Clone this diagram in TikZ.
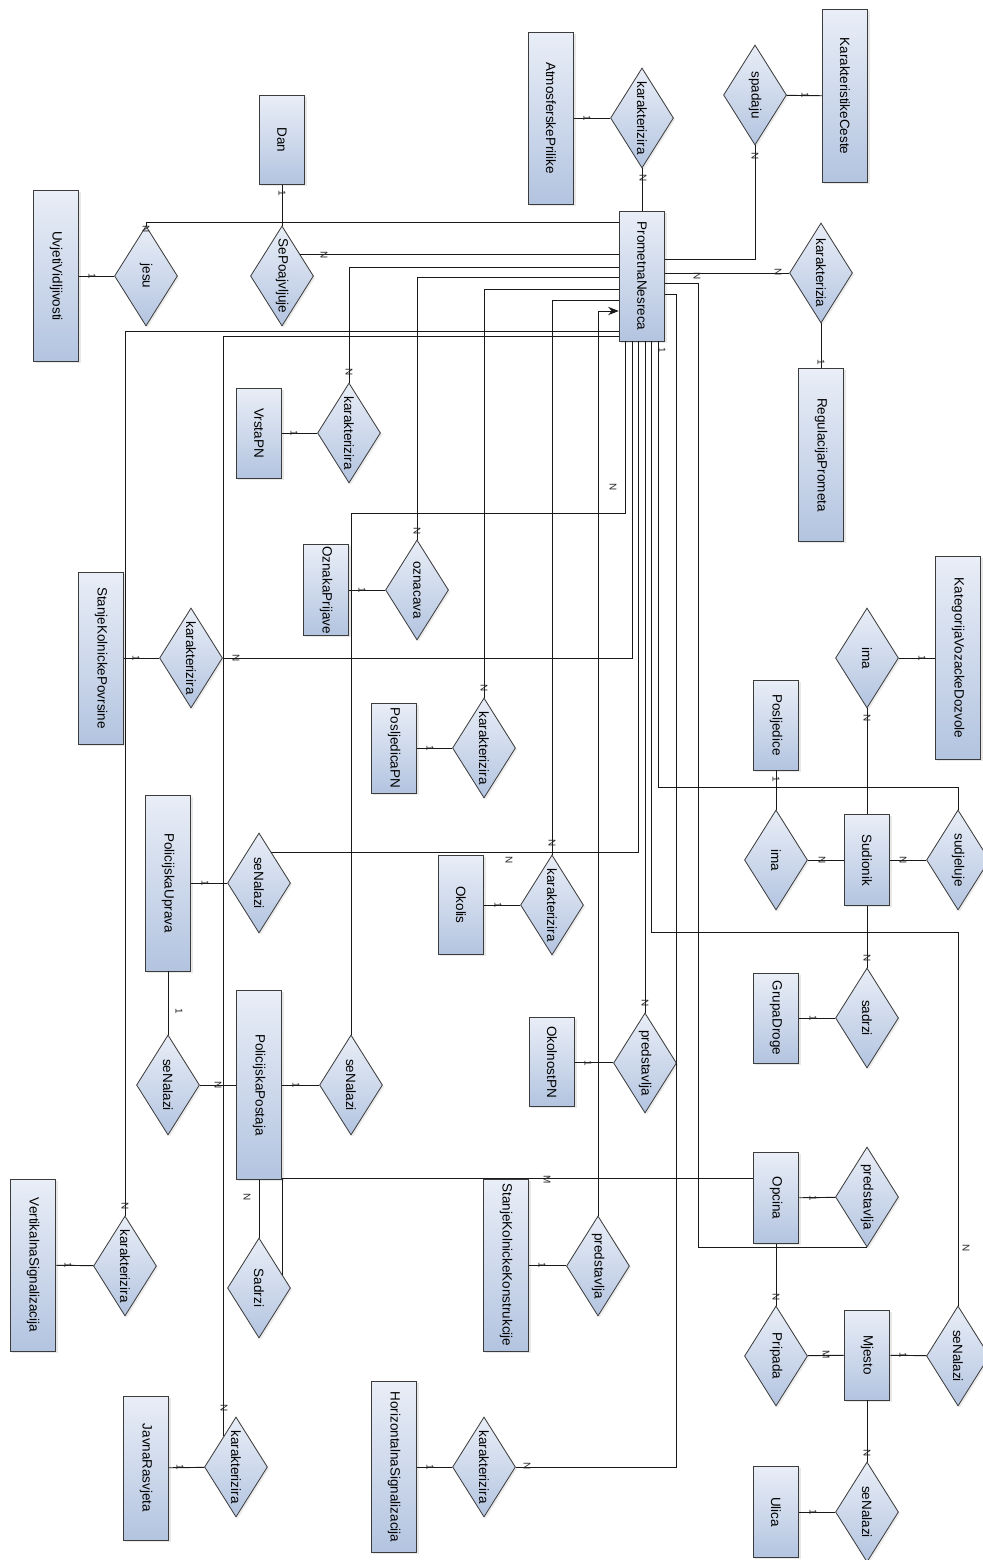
\documentclass[tikz,border=0pt]{standalone}
\usepackage{fontspec}
\setmainfont{Liberation Sans}
\usepackage{graphicx}
\usetikzlibrary{arrows.meta, shapes.geometric, shadows}
\definecolor{ertop}{HTML}{E9EEF7}
\definecolor{erbottom}{HTML}{B3C4E0}
\definecolor{erline}{HTML}{3C3C3C}
\newcommand{\vlabel}[1]{\rotatebox{-90}{#1}}

\begin{document}
\begin{tikzpicture}[
    x=0.03cm, y=-0.03cm,
    entity/.style={draw=erline, line width=0.7pt, top color=ertop, bottom color=erbottom,
                   drop shadow={opacity=0.18, shadow xshift=1.5pt, shadow yshift=-1.5pt},
                   minimum width=1.37cm, minimum height=#1*0.03cm, inner sep=0pt,
                   font=\fontsize{11.5}{13}\selectfont},
    relation/.style={diamond, shape aspect=0.63, draw=erline, line width=0.7pt,
                   top color=ertop, bottom color=erbottom,
                   drop shadow={opacity=0.15, shadow xshift=1.5pt, shadow yshift=-1.5pt},
                   minimum width=1.89cm, minimum height=3cm, inner sep=0pt,
                   font=\fontsize{11.5}{13}\selectfont},
    card/.style={font=\fontsize{8.5}{9}\selectfont, inner sep=0pt, text=black!85},
    link/.style={draw=black!90, line width=0.8pt},
]
    \fill[white] (0,0) rectangle (983,1560);
    \useasboundingbox (0,0) rectangle (983,1560);

    % entiteti
    \node[entity=89]  (dan)          at (282,140)  {\vlabel{Dan}};
    \node[entity=171] (uvjeti)       at (56,276)   {\vlabel{UvjetiVidljivosti}};
    \node[entity=172] (atmo)         at (551,118)  {\vlabel{AtmosferskePrilike}};
    \node[entity=130] (pn)           at (642,276)  {\vlabel{PrometnaNesreca}};
    \node[entity=173] (karceste)     at (845,96)   {\vlabel{KarakteristikeCeste}};
    \node[entity=173] (regulacija)   at (821,455)  {\vlabel{RegulacijaPrometa}};
    \node[entity=90]  (vrstapn)      at (259,433)  {\vlabel{VrstaPN}};
    \node[entity=91]  (oznaka)       at (326,590)  {\vlabel{OznakaPrijave}};
    \node[entity=172] (skpovrsine)   at (101,658)  {\vlabel{StanjeKolnickePovrsine}};
    \node[entity=90]  (posljedicapn) at (394,748)  {\vlabel{PosljedicaPN}};
    \node[entity=90]  (posljedice)   at (776,725)  {\vlabel{Posljedice}};
    \node[entity=203] (kategorija)   at (958,658)  {\vlabel{KategorijaVozackeDozvole}};
    \node[entity=91]  (sudionik)     at (867,860)  {\vlabel{Sudionik}};
    \node[entity=90]  (grupa)        at (776,1018) {\vlabel{GrupaDroge}};
    \node[entity=91]  (opcina)       at (776,1198) {\vlabel{Opcina}};
    \node[entity=90]  (mjesto)       at (867,1355) {\vlabel{Mjesto}};
    \node[entity=91]  (ulica)        at (776,1512) {\vlabel{Ulica}};
    \node[entity=99]  (okolis)       at (461,905)  {\vlabel{Okolis}};
    \node[entity=89]  (okolnost)     at (552,1062) {\vlabel{OkolnostPN}};
    \node[entity=172] (skkonstr)     at (506,1265) {\vlabel{StanjeKolnickeKonstrukcije}};
    \node[entity=176] (uprava)       at (168,883)  {\vlabel{PolicijskaUprava}};
    \node[entity=189] (postaja)      at (259,1085) {\vlabel{PolicijskaPostaja}};
    \node[entity=172] (vertikalna)   at (33,1265)  {\vlabel{VertikalnaSignalizacija}};
    \node[entity=144] (rasvjeta)     at (146,1468) {\vlabel{JavnaRasvjeta}};
    \node[entity=171] (horizontalna) at (394,1467) {\vlabel{HorizontalnaSignalizacija}};

    % veze
    \node[relation] (jesu)      at (146,276)  {\vlabel{jesu}};
    \node[relation] (sepo)      at (282,276)  {\vlabel{SePoajvljuje}};
    \node[relation] (atmorel)   at (642,118)  {\vlabel{karakterizira}};
    \node[relation] (spadaju)   at (755,95)   {\vlabel{spadaju}};
    \node[relation] (regrel)    at (821,273)  {\vlabel{karakterizia}};
    \node[relation] (vrstarel)  at (349,433)  {\vlabel{karakterizira}};
    \node[relation] (oznacava)  at (417,590)  {\vlabel{oznacava}};
    \node[relation] (skprel)    at (191,658)  {\vlabel{karakterizira}};
    \node[relation] (posljrel)  at (484,748)  {\vlabel{karakterizira}};
    \node[relation] (kvdima)    at (867,658)  {\vlabel{ima}};
    \node[relation] (poima)     at (776,860)  {\vlabel{ima}};
    \node[relation] (sudjeluje) at (958,860)  {\vlabel{sudjeluje}};
    \node[relation] (sadrzi)    at (867,1018) {\vlabel{sadrzi}};
    \node[relation] (predop)    at (867,1197) {\vlabel{predstavlja}};
    \node[relation] (pripada)   at (776,1356) {\vlabel{Pripada}};
    \node[relation] (senmj)     at (958,1356) {\vlabel{seNalazi}};
    \node[relation] (senul)     at (867,1512) {\vlabel{seNalazi}};
    \node[relation] (okorel)    at (552,905)  {\vlabel{karakterizira}};
    \node[relation] (predokol)  at (645,1063) {\vlabel{predstavlja}};
    \node[relation] (predskk)   at (598,1266) {\vlabel{predstavlja}};
    \node[relation] (senpu)     at (259,883)  {\vlabel{seNalazi}};
    \node[relation] (senpupp)   at (168,1085) {\vlabel{seNalazi}};
    \node[relation] (senpp)     at (351,1085) {\vlabel{seNalazi}};
    \node[relation] (sadrzipp)  at (259,1288) {\vlabel{Sadrzi}};
    \node[relation] (vsrel)     at (125,1266) {\vlabel{karakterizira}};
    \node[relation] (jrrel)     at (236,1467) {\vlabel{karakterizira}};
    \node[relation] (hsrel)     at (484,1467) {\vlabel{karakterizira}};

    % ravne linije
    \draw[link] (dan) -- (sepo);
    \draw[link] (uvjeti) -- (jesu);
    \draw[link] (atmo) -- (atmorel);
    \draw[link] (atmorel) -- (pn);
    \draw[link] (spadaju) -- (karceste);
    \draw[link] (regrel.south) -- (regulacija.north);
    \draw[link] (vrstapn) -- (vrstarel);
    \draw[link] (oznaka) -- (oznacava);
    \draw[link] (skpovrsine) -- (skprel);
    \draw[link] (posljedicapn) -- (posljrel);
    \draw[link] (kvdima) -- (kategorija);
    \draw[link] (kvdima) -- (sudionik);
    \draw[link] (posljedice) -- (poima);
    \draw[link] (poima) -- (sudionik);
    \draw[link] (sudionik) -- (sudjeluje);
    \draw[link] (sudionik) -- (sadrzi);
    \draw[link] (grupa) -- (sadrzi);
    \draw[link] (opcina) -- (predop);
    \draw[link] (opcina) -- (pripada);
    \draw[link] (pripada) -- (mjesto);
    \draw[link] (mjesto) -- (senmj);
    \draw[link] (mjesto) -- (senul);
    \draw[link] (ulica) -- (senul);
    \draw[link] (okolis) -- (okorel);
    \draw[link] (okolnost.east) -- (okolnost.east -| predokol.west);
    \draw[link] (skkonstr.east) -- (skkonstr.east -| predskk.west);
    \draw[link] (uprava) -- (senpu);
    \draw[link] (uprava) -- (senpupp);
    \draw[link] (senpupp) -- (postaja);
    \draw[link] (postaja) -- (senpp);
    \draw[link] (postaja) -- (sadrzipp);
    \draw[link] (vertikalna) -- (vsrel);
    \draw[link] (rasvjeta) -- (jrrel);
    \draw[link] (horizontalna) -- (hsrel);

    % linije prema PrometnaNesreca
    \draw[link] (jesu.north) |- (pn.west |- 0,222);
    \draw[link] (sepo.49) -- (pn.west |- sepo.49);
    \draw[link] (vrstarel.north) |- (pn.west |- 0,267);
    \draw[link] (oznacava.north) |- (pn.west |- 0,277);
    \draw[link] (posljrel.north) |- (pn.west |- 0,289);
    \draw[link] (okorel.north) |- (pn.west |- 0,300);
    \draw[link, -{Stealth[length=9pt, width=7pt]}] (predskk.north) |- (pn.west |- 0,311);
    \draw[link] (vsrel.north) |- (pn.west |- 0,331);
    \draw[link] (jrrel.111) |- (pn.west |- 0,336);
    \draw[link] (senpp.north) |- (625,513) -- (625,0 |- pn.south);
    \draw[link] (skprel.east) -| (632,0 |- pn.south);
    \draw[link] (senpu.68) -| (638,0 |- pn.south);
    \draw[link] (predokol.north) -- (predokol.north |- pn.south);
    \draw[link] (senmj.north) |- (651,932) -- (651,0 |- pn.south);
    \draw[link] (sudjeluje.north) |- (658,787) -- (658,0 |- pn.south);
    \draw[link] (spadaju.south) |- (pn.east |- 0,259);
    \draw[link] (regrel.west) -- (pn.east |- regrel.west);
    \draw[link] (predop.south) -| (698,283) -- (pn.east |- 0,283);
    \draw[link] (hsrel.east) -| (676,294) -- (pn.east |- 0,294);
    \draw[link] (sadrzipp.30) |- (opcina.west |- 0,1178);

    % kardinalnosti
    \node[card] (kDan)    at (282,193)  {\vlabel{1}};
    \node[card] (kJesuN)  at (146,229)  {\vlabel{N}};
    \node[card] (kJesu1)  at (92,276)   {\vlabel{1}};
    \node[card] (kSepo)   at (324,255)  {\vlabel{N}};
    \node[card] (kAtmo1)  at (587,118)  {\vlabel{1}};
    \node[card] (kAtmoN)  at (643,178)  {\vlabel{N}};
    \node[card] (kCeste1) at (805,95)   {\vlabel{1}};
    \node[card] (kCesteN) at (755,156)  {\vlabel{N}};
    \node[card] (kRegN)   at (778,272)  {\vlabel{N}};
    \node[card] (kOpcN)   at (697,276)  {\vlabel{N}};
    \node[card] (kReg1)   at (821,362)  {\vlabel{1}};
    \node[card] (kVrsta1) at (294,433)  {\vlabel{1}};
    \node[card] (kVrstaN) at (349,372)  {\vlabel{N}};
    \node[card] (kOzn1)   at (362,590)  {\vlabel{1}};
    \node[card] (kOznN)   at (417,531)  {\vlabel{N}};
    \node[card] (kSkp1)   at (136,658)  {\vlabel{1}};
    \node[card] (kSkpN)   at (236,658)  {\vlabel{N}};
    \node[card] (kPos1)   at (430,748)  {\vlabel{1}};
    \node[card] (kPosN)   at (484,688)  {\vlabel{N}};
    \node[card] (kPnN)    at (613,487)  {\vlabel{N}};
    \node[card] (kPn1)    at (662,350)  {\vlabel{1}};
    \node[card] (kKat1)   at (922,658)  {\vlabel{1}};
    \node[card] (kKatN)   at (867,718)  {\vlabel{N}};
    \node[card] (kPsl1)   at (776,779)  {\vlabel{1}};
    \node[card] (kImaN)   at (822,860)  {\vlabel{N}};
    \node[card] (kSudN)   at (903,860)  {\vlabel{N}};
    \node[card] (kSadN)   at (867,958)  {\vlabel{N}};
    \node[card] (kGrupa1) at (813,1018) {\vlabel{1}};
    \node[card] (kOpc1)   at (813,1198) {\vlabel{1}};
    \node[card] (kPriN)   at (776,1297) {\vlabel{N}};
    \node[card] (kPriM)   at (826,1355) {\vlabel{M}};
    \node[card] (kMj1)    at (903,1355) {\vlabel{1}};
    \node[card] (kMjN)    at (966,1248) {\vlabel{N}};
    \node[card] (kUlN)    at (867,1453) {\vlabel{N}};
    \node[card] (kUl1)    at (813,1512) {\vlabel{1}};
    \node[card] (kOkoN)   at (552,843)  {\vlabel{N}};
    \node[card] (kOkoN2)  at (509,860)  {\vlabel{N}};
    \node[card] (kOko1)   at (498,905)  {\vlabel{1}};
    \node[card] (kOknN)   at (645,1003) {\vlabel{N}};
    \node[card] (kOkn1)   at (588,1063) {\vlabel{1}};
    \node[card] (kSadM)   at (547,1180) {\vlabel{M}};
    \node[card] (kSkk1)   at (542,1265) {\vlabel{1}};
    \node[card] (kUpr1)   at (205,883)  {\vlabel{1}};
    \node[card] (kUpr2)   at (179,1011) {\vlabel{1}};
    \node[card] (kPostN)  at (218,1085) {\vlabel{N}};
    \node[card] (kPost1)  at (296,1085) {\vlabel{1}};
    \node[card] (kSdrN)   at (247,1197) {\vlabel{N}};
    \node[card] (kVsN)    at (125,1206) {\vlabel{N}};
    \node[card] (kVs1)    at (68,1265)  {\vlabel{1}};
    \node[card] (kJrN)    at (224,1408) {\vlabel{N}};
    \node[card] (kJr1)    at (180,1467) {\vlabel{1}};
    \node[card] (kHsN)    at (527,1466) {\vlabel{N}};
    \node[card] (kHs1)    at (430,1467) {\vlabel{1}};
\end{tikzpicture}
\end{document}
